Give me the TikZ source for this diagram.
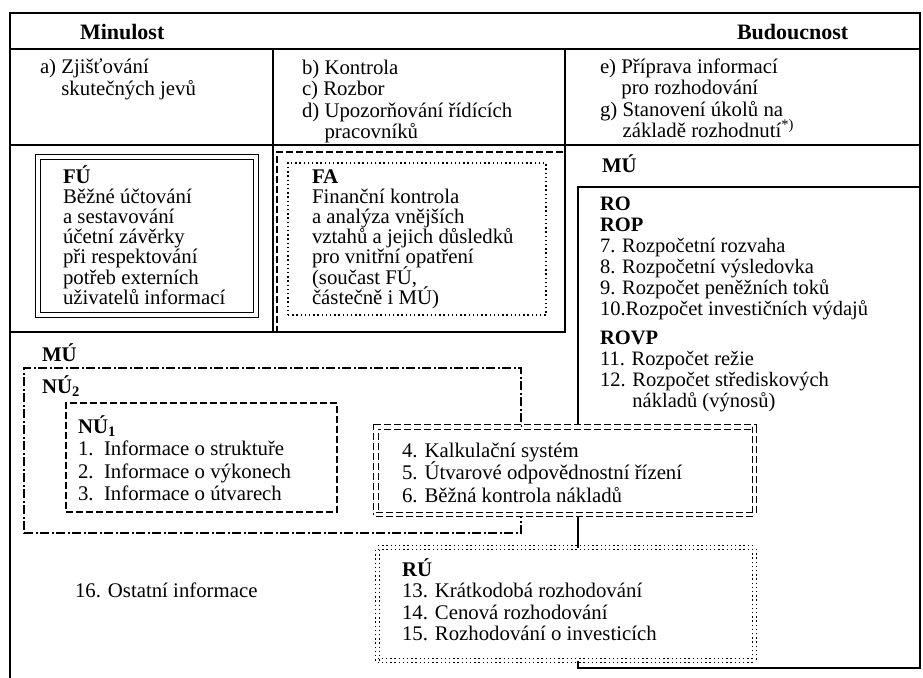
\documentclass[tikz,border=0pt]{standalone}
\usepackage{fontspec}
\setmainfont{Liberation Serif}
\newcommand{\dgfs}[2]{\fontsize{#1}{#2}\selectfont\lineskiplimit=-30pt\relax}
\newcommand{\dgfont}{\dgfs{20.8}{21.5}}
\newcommand{\dgst}{\rule{0pt}{20pt}}
\begin{document}
\begin{tikzpicture}[x=1pt,y=-1pt,
  frameline/.style={line width=1.5pt, draw=black},
  box/.style={draw=black, line width=1.2pt, inner sep=0pt, outer sep=0pt, anchor=north west, rectangle},
  dbox/.style={box, double, double distance=3.4pt, line width=1.1pt},
  dashbox/.style={box, dash pattern=on 7pt off 3pt},
  dotbox/.style={box, dash pattern=on 1.4pt off 2.8pt},
  dashdotbox/.style={box, dash pattern=on 9pt off 2.5pt on 2pt off 2.5pt},
  txt/.style={anchor=north west, inner sep=0pt, outer sep=0pt, align=left, font=\dgfont},
  one/.style={anchor=base west, inner sep=0pt, outer sep=0pt, font=\dgfont},
  head/.style={one, font={\dgfs{22}{24}\bfseries}}]
\useasboundingbox (0,0) rectangle (923,677);
\fill[white] (0,0) rectangle (923,677);
% frame
\draw[frameline] (10,690) -- (10,13) -- (920,13) -- (920,668);
\draw[frameline] (10,49) -- (920,49);
\draw[frameline] (10,145) -- (920,145);
\draw[frameline] (273,49) -- (273,332);
\draw[frameline] (565,49) -- (565,332);
\draw[frameline] (10,332) -- (565,332);
% FU
\node[dbox, line width=1.3pt, minimum width=218, minimum height=158] (fu) at (38,157) {};
% FA
\node[dashbox, minimum width=288, minimum height=180] (faout) at (277,152) {};
\node[dotbox, minimum width=258, minimum height=152] (fain) at (288,163) {};
\draw[frameline] (565,145) -- (565,332) -- (273,332);
% RO region box
\node[box, line width=1.4pt, minimum width=342, minimum height=481] (ro) at (578,187) {};
% NU2, NU1
\node[dashdotbox, minimum width=497, minimum height=165] (nu2) at (24,368) {};
\node[dashbox, minimum width=271, minimum height=109] (nu1) at (66,403) {};
% 4-6 box
\node[dbox, fill=white, dash pattern=on 7pt off 3pt, minimum width=378.5, minimum height=87.5] (kal) at (376,427) {};
% RU box
\node[dbox, fill=white, line width=1.2pt, double distance=2.6pt, dash pattern=on 1.4pt off 2.8pt, minimum width=377, minimum height=113] (ru) at (377.5,547.5) {};
% texts
\node[head] (tmin) at (80,40) {Minulost};
\node[head] (tbud) at (737,40) {Budoucnost};
\node[txt] (ta) at (40,54) {\dgst a) Zjišťování\\\phantom{a) }skutečných jevů};
\node[txt] (tb) at (302,54) {\dgst b) Kontrola\\c) Rozbor\\d) Upozorňování řídících\\\phantom{d) }pracovníků};
\node[txt] (te) at (600,53) {\dgst e) Příprava informací\\\phantom{e) }pro rozhodování\\g) Stanovení úkolů na\\\phantom{g) }základě rozhodnutí\textsuperscript{*)}};
\node[txt, font={\dgfs{20.8}{20.2}}] (tfu) at (63,163) {\dgst\textbf{FÚ}\\Běžné účtování\\a sestavování\\účetní závěrky\\při respektování\\potřeb externích\\uživatelů informací};
\node[txt, font={\dgfs{20.8}{20.2}}] (tfa) at (312,163) {\dgst\textbf{FA}\\Finanční kontrola\\a analýza vnějších\\vztahů a jejich důsledků\\pro vnitřní opatření\\(součast FÚ,\\částečně i MÚ)};
\node[one, font={\dgfont\bfseries}] (tmur) at (602,172) {MÚ};
\node[txt, font={\dgfs{20.5}{21}}] (tro) at (600,190) {\dgst\textbf{RO}\\\textbf{ROP}\\7. Rozpočetní rozvaha\\8. Rozpočetní výsledovka\\9. Rozpočet peněžních toků\\10.Rozpočet investičních výdajů\\[8pt]\textbf{ROVP}\\11. Rozpočet režie\\12. Rozpočet střediskových\\\phantom{12. }nákladů (výnosů)};
\node[one, font={\dgfont\bfseries}] (tmul) at (42,361) {MÚ};
\node[one, font={\dgfont\bfseries}] (tnu2) at (42,393) {NÚ\textsubscript{2}};
\node[txt, font={\dgfs{20.8}{22.5}}] (tnu1) at (78,413) {\dgst\textbf{NÚ\textsubscript{1}}\\1.\enspace Informace o struktuře\\2.\enspace Informace o výkonech\\3.\enspace Informace o útvarech};
\node[txt, font={\dgfs{20.8}{22.5}}] (tkal) at (402,437) {\dgst 4. Kalkulační systém\\5. Útvarové odpovědnostní řízení\\6. Běžná kontrola nákladů};
\node[txt, font={\dgfs{20.8}{21.5}}] (tru) at (402,556) {\dgst\textbf{RÚ}\\13. Krátkodobá rozhodování\\14. Cenová rozhodování\\15. Rozhodování o investicích};
\node[one] (t16) at (75,597) {16. Ostatní informace};
\end{tikzpicture}
\end{document}
